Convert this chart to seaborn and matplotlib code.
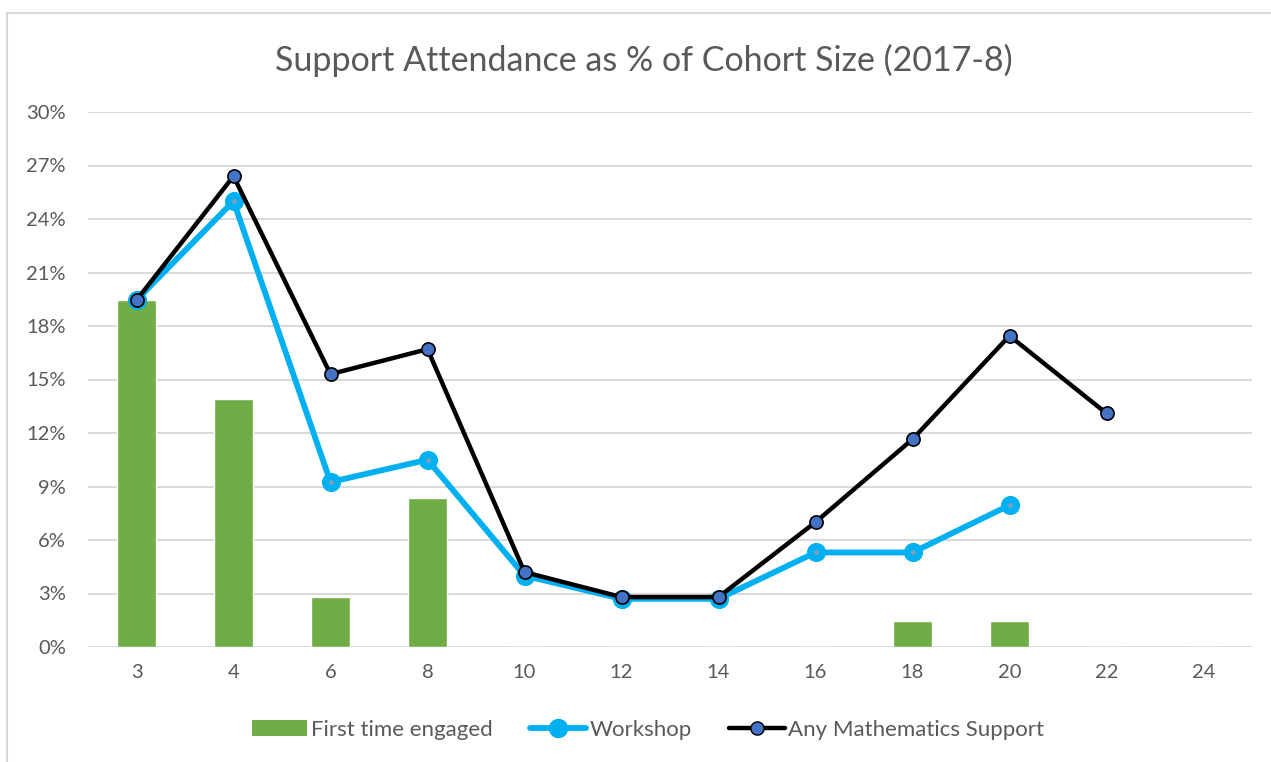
import matplotlib
matplotlib.use("Agg")
import matplotlib.pyplot as plt
import seaborn as sns
import numpy as np
import pandas as pd
from matplotlib.lines import Line2D
from matplotlib.patches import Patch

categories = ["3", "4", "6", "8", "10", "12", "14", "16", "18", "20", "22", "24"]
first_time = [19.45, 13.9, 2.8, 8.35, 0, 0, 0, 0, 1.45, 1.45, 0, 0]
workshop = [19.45, 25.0, 9.25, 10.5, 4.0, 2.7, 2.7, 5.3, 5.3, 7.95]
any_support = [19.45, 26.4, 15.3, 16.7, 4.2, 2.8, 2.8, 7.0, 11.65, 17.45, 13.1]

sns.set_theme(style="white")
plt.rcParams['font.family'] = ['Lato', 'DejaVu Sans']

fig = plt.figure(figsize=(12.71, 7.62), dpi=100)
ax = fig.add_axes([88/1271, 1-647/762, (1252-88)/1271, (647-112)/762])

df_bar = pd.DataFrame({"week": categories, "val": first_time})
sns.barplot(data=df_bar, x="week", y="val", order=categories, color="#70AD47",
            saturation=1, width=0.4, ax=ax, zorder=2)

x_ws = np.arange(len(workshop))
x_any = np.arange(len(any_support))
sns.lineplot(x=x_ws, y=workshop, ax=ax, color="#00B0F0", linewidth=4.2,
             marker="o", markersize=13, markerfacecolor="#00B0F0",
             markeredgecolor="#00B0F0", zorder=3)
ax.plot(x_ws, workshop, "o", color="#7F9FBF", markersize=2.5, zorder=3.5)
sns.lineplot(x=x_any, y=any_support, ax=ax, color="black", linewidth=3.2,
             marker="o", markersize=9.5, markerfacecolor="#4472C4",
             markeredgecolor="black", markeredgewidth=1.2, zorder=4)

ax.set_ylim(0, 30)
ax.set_xlim(-0.5, len(categories) - 0.5)
ax.set_yticks(np.arange(0, 31, 3))
ax.set_yticklabels([f"{v}%" for v in range(0, 31, 3)])
ax.yaxis.grid(True, color="#D9D9D9", linewidth=1.4, zorder=0)
ax.set_axisbelow(True)
for s in ax.spines.values():
    s.set_visible(False)
ax.tick_params(axis="both", colors="#595959", labelsize=14.5, length=0, pad=12)
ax.tick_params(axis="y", pad=16)
ax.set_xlabel("")
ax.set_ylabel("")

fig.text(644/1271, 1-60/762, "Support Attendance as % of Cohort Size (2017-8)",
         ha="center", va="center", fontsize=24.5, color="#595959")

handles = [
    Patch(facecolor="#70AD47", edgecolor="none"),
    Line2D([0], [0], color="#00B0F0", linewidth=4.2, marker="o", markersize=13,
           markerfacecolor="#00B0F0", markeredgecolor="#00B0F0"),
    Line2D([0], [0], color="black", linewidth=3.2, marker="o", markersize=9.5,
           markerfacecolor="#4472C4", markeredgecolor="black"),
]
labels = ["First time engaged", "Workshop", "Any Mathematics Support"]
fig.legend(handles, labels, loc="center", bbox_to_anchor=(648/1271, 1-730/762),
           ncol=3, frameon=False, fontsize=16, labelcolor="#595959",
           handlelength=2.5, handletextpad=0.15, columnspacing=1.7)

fig.add_artist(Line2D([7/1271, 7/1271], [0, 1-13/762], color="#D9D9D9",
                      linewidth=1.5, transform=fig.transFigure))
fig.add_artist(Line2D([7/1271, 1], [1-13/762, 1-13/762], color="#D9D9D9",
                      linewidth=1.5, transform=fig.transFigure))

fig.savefig("out.png", dpi=100)
